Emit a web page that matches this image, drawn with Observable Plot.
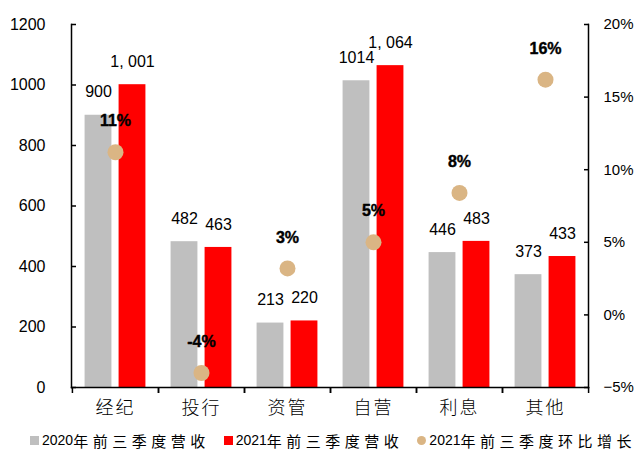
<!DOCTYPE html>
<html><head><meta charset="utf-8">
<script src="https://cdn.jsdelivr.net/npm/d3@7"></script>
<script src="https://cdn.jsdelivr.net/npm/@observablehq/plot@0.6"></script>
<style>
body{margin:0;background:#fff;}
#chart svg{display:block;}
#chart g[aria-label="x-axis tick label"] text{letter-spacing:2px;}
#legend{display:flex;align-items:center;height:30px;padding-left:30px;font-family:'Liberation Sans',Arial,sans-serif;color:#000;white-space:nowrap;}
#legend .item{display:flex;align-items:center;margin-right:14px;}
#legend .mk{width:9px;height:9px;margin-right:3px;flex:none;}
#legend .num{font-size:14px;}
#legend .cjk{font-family:'Noto Sans CJK SC',sans-serif;font-size:15px;letter-spacing:4.5px;}
</style></head><body>
<div id="chart"></div>
<div id="legend"></div>
<script>
const categories = ["经纪","投行","资管","自营","利息","其他"];
const rev2020 = [900,482,213,1014,446,373];
const rev2021 = [1001,463,220,1064,483,433];
const growth2021 = [11.2,-4.0,3.2,5.0,8.4,16.2];
const leftTicks = [0,200,400,600,800,1000,1200];
const rightTicks = [-5,0,5,10,15,20];
const seriesNames = ["2020年前三季度营收","2021年前三季度营收","2021年前三季度环比增长"];
const seriesColors = ["#bfbfbf","#ff0000","#dab584"];

const W = 636, H = 425, mL = 71, mR = 48, mT = 24, mB = 38;
const step = (W - mL - mR) / categories.length;
const barW = 27, gap = 7;
const pct = d3.scaleLinear().domain([rightTicks[0], rightTicks[rightTicks.length-1]])
  .range([leftTicks[0], leftTicks[leftTicks.length-1]]);

const rows = categories.map((c, i) => ({cat: c, v2020: rev2020[i], v2021: rev2021[i], g: growth2021[i], gy: pct(growth2021[i])}));
const fmt2021 = v => d3.format(",")(v).replace(",", ", ");
const axisStroke = {stroke: "#000", strokeWidth: 1.5};

const chart = Plot.plot({
  width: W, height: H,
  marginLeft: mL, marginRight: mR, marginTop: mT, marginBottom: mB,
  style: {fontFamily: "'Liberation Sans', Arial, sans-serif", color: "#000", background: "#fff"},
  x: {type: "band", domain: categories, padding: 0},
  y: {domain: [leftTicks[0], leftTicks[leftTicks.length-1]]},
  marks: [
    Plot.barY(rows, {x: "cat", y: "v2020", fill: seriesColors[0], insetLeft: step/2 - gap/2 - barW, insetRight: step/2 + gap/2}),
    Plot.barY(rows, {x: "cat", y: "v2021", fill: seriesColors[1], insetLeft: step/2 + gap/2, insetRight: step/2 - gap/2 - barW}),
    Plot.text(rows, {x: "cat", y: "v2020", text: d => String(d.v2020), dx: -(gap/2 + barW/2), dy: -23, fontSize: 16, fill: "#000"}),
    Plot.text(rows, {x: "cat", y: "v2021", text: d => fmt2021(d.v2021), dx: (gap/2 + barW/2), dy: -23, fontSize: 16, fill: "#000"}),
    Plot.dot(rows, {x: "cat", y: "gy", r: 8, fill: seriesColors[2], stroke: null}),
    Plot.text(rows, {x: "cat", y: "gy", text: d => `${Math.round(d.g)}%`, dy: -31, fontSize: 16, fontWeight: "bold", fill: "#000", stroke: "#000", strokeWidth: 0.4}),
    Plot.frame({anchor: "left", ...axisStroke}),
    Plot.frame({anchor: "right", ...axisStroke}),
    Plot.frame({anchor: "bottom", ...axisStroke}),
    Plot.axisY(leftTicks, {anchor: "left", tickSize: -5, tickPadding: 31, fontSize: 16, label: null, tickFormat: d => String(d), ...axisStroke}),
    Plot.axisY(rightTicks.map(p => pct(p)), {anchor: "right", tickSize: -5, tickPadding: 20, fontSize: 15, label: null,
      tickFormat: v => { const p = Math.round(pct.invert(v)); return (p < 0 ? "\u2212" + Math.abs(p) : p) + "%"; }, ...axisStroke}),
    Plot.axisX({tickSize: 6, tickFormat: () => "", dx: -step/2, label: null, ...axisStroke}),
    Plot.axisX({tickSize: 6, tickFormat: () => "", dx: step/2, label: null, ...axisStroke}),
    Plot.axisX({tickSize: 0, tickPadding: 14, fontSize: 18, fontWeight: 300, label: null, fontFamily: "'Noto Sans CJK SC', sans-serif"})
  ]
});
document.getElementById("chart").appendChild(chart);

const legend = document.getElementById("legend");
seriesNames.forEach((name, i) => {
  const item = document.createElement("div");
  item.className = "item";
  const mk = document.createElement("span");
  mk.className = "mk";
  mk.style.background = seriesColors[i];
  if (i === 2) mk.style.borderRadius = "50%";
  item.appendChild(mk);
  const m = name.match(/^(\d+)(.*)$/);
  const n = document.createElement("span"); n.className = "num"; n.textContent = m[1];
  const c = document.createElement("span"); c.className = "cjk"; c.textContent = m[2];
  item.appendChild(n); item.appendChild(c);
  legend.appendChild(item);
});
</script>
</body></html>
